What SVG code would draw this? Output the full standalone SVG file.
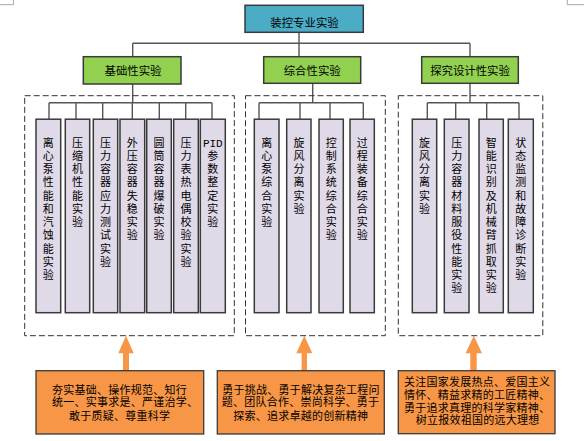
<svg xmlns="http://www.w3.org/2000/svg" width="584" height="441" viewBox="0 0 584 441">
<style>
  text { font-family: "Noto Sans CJK SC", "Liberation Sans", sans-serif; fill: #000; }
  .box { stroke: #3a3a3a; stroke-width: 1.5; }
  .top { fill: #4BACC6; }
  .cat { fill: #92D050; }
  .child { fill: #E0DAE8; stroke: #3a3a3a; stroke-width: 1.5; }
  .dash { fill: none; stroke: #333; stroke-width: 1; stroke-dasharray: 6 3; }
  .conn { fill: none; stroke: #555; stroke-width: 1.4; }
  .arrow { fill: #F79646; }
  .val { fill: #F79646; stroke: #3a3a3a; stroke-width: 1.3; }
  .h { font-size: 11.4px; text-anchor: middle; }
  .v { font-size: 11px; writing-mode: vertical-rl; text-orientation: upright; letter-spacing: 2.25px; }
  .t { font-size: 11px; letter-spacing: 0.25px; }
  .mono { font-family: "Liberation Mono", monospace; font-size: 11px; text-anchor: middle; }
  .corner { fill: none; stroke: #a8a8a8; stroke-width: 1; }
</style>

<g id="corners">
  <path class="corner" d="M13.5 0 V4.7 H0"/>
  <path class="corner" d="M567.3 0 V4.7 H584"/>
</g>

<g id="connectors">
  <path class="conn" d="M299 32.3 V56.7 M132.7 43.3 H470 M132.7 43.3 V56.7 M470 43.3 V56.7"/>
  <path class="conn" d="M132.7 84 V102.7 M49 102.7 H212 M49 102.7 V119 M76 102.7 V119 M102.7 102.7 V119 M132.3 102.7 V119 M159.3 102.7 V119 M185.7 102.7 V119 M212 102.7 V119"/>
  <path class="conn" d="M312.7 83.3 V102.7 M259 102.7 H363.3 M259 102.7 V119 M300 102.7 V119 M330 102.7 V119 M363.3 102.7 V119"/>
  <path class="conn" d="M470 83.3 V102.7 M427.3 102.7 H519 M427.3 102.7 V119 M455.7 102.7 V119 M486.7 102.7 V119 M519 102.7 V119"/>
  <polygon class="arrow" points="126,335.7 133.7,353.3 129,353.3 129,370.7 123,370.7 123,353.3 118.3,353.3"/>
  <polygon class="arrow" points="304.3,335.7 312.3,353.3 307,353.3 307,370.7 301.6,370.7 301.6,353.3 296.3,353.3"/>
  <polygon class="arrow" points="473.8,335.7 482,353.3 476.7,353.3 476.7,370.7 470.3,370.7 470.3,353.3 465.6,353.3"/>
</g>

<g id="root">
  <rect class="box top" x="245" y="5.3" width="118.3" height="27"/>
  <text class="h" x="304.5" y="26.5">装控专业实验</text>
</g>

<g id="cat-basic">
  <rect class="box cat" x="83.3" y="56.7" width="97.7" height="27.3"/>
  <text class="h" x="133" y="75.3">基础性实验</text>
</g>
<g id="cat-comprehensive">
  <rect class="box cat" x="263.7" y="56.7" width="97" height="26.6"/>
  <text class="h" x="312.2" y="75.3">综合性实验</text>
</g>
<g id="cat-research">
  <rect class="box cat" x="421.7" y="56.7" width="96.6" height="26.6"/>
  <text class="h" x="470" y="75.3">探究设计性实验</text>
</g>

<g id="group-basic">
  <rect class="dash" x="24.7" y="95.7" width="209.6" height="240"/>
</g>
<g id="group-comprehensive">
  <rect class="dash" x="245.5" y="95.7" width="139.8" height="240"/>
</g>
<g id="group-research">
  <rect class="dash" x="398.3" y="95.7" width="144.5" height="240"/>
</g>

<g id="b1"><rect class="child" x="36" y="119.2" width="24.7" height="193.5"/>
<text class="v" x="48.3" y="137">离心泵性能和汽蚀能实验</text></g>
<g id="b2"><rect class="child" x="65.3" y="119.2" width="24.4" height="193.5"/>
<text class="v" x="77.5" y="137">压缩机性能实验</text></g>
<g id="b3"><rect class="child" x="93.3" y="119.2" width="24.4" height="193.5"/>
<text class="v" x="105.5" y="137">压力容器应力测试实验</text></g>
<g id="b4"><rect class="child" x="120" y="119.2" width="24.7" height="193.5"/>
<text class="v" x="132.3" y="137">外压容器失稳实验</text></g>
<g id="b5"><rect class="child" x="146.7" y="119.2" width="24.6" height="193.5"/>
<text class="v" x="159" y="137">圆筒容器爆破实验</text></g>
<g id="b6"><rect class="child" x="173.7" y="119.2" width="24.6" height="193.5"/>
<text class="v" x="186" y="137">压力表热电偶校验实验</text></g>
<g id="b7"><rect class="child" x="200.3" y="119.2" width="25" height="193.5"/>
<text class="mono" x="212.8" y="146.5">PID</text>
<text class="v" x="212.8" y="150.25">参数整定实验</text></g>

<g id="c1"><rect class="child" x="254.3" y="119.2" width="24.7" height="193.5"/>
<text class="v" x="266.7" y="137">离心泵综合实验</text></g>
<g id="c2"><rect class="child" x="286.7" y="119.2" width="24.3" height="193.5"/>
<text class="v" x="298.9" y="137">旋风分离实验</text></g>
<g id="c3"><rect class="child" x="319" y="119.2" width="24.3" height="193.5"/>
<text class="v" x="331.2" y="137">控制系统综合实验</text></g>
<g id="c4"><rect class="child" x="350" y="119.2" width="24.3" height="193.5"/>
<text class="v" x="362.2" y="137">过程装备综合实验</text></g>

<g id="r1"><rect class="child" x="412.3" y="119.2" width="24.4" height="193.5"/>
<text class="v" x="424.5" y="137">旋风分离实验</text></g>
<g id="r2"><rect class="child" x="444.3" y="119.2" width="24.7" height="193.5"/>
<text class="v" x="456.7" y="137">压力容器材料服役性能实验</text></g>
<g id="r3"><rect class="child" x="479" y="119.2" width="24.3" height="193.5"/>
<text class="v" x="491.2" y="137">智能识别及机械臂抓取实验</text></g>
<g id="r4"><rect class="child" x="508.3" y="119.2" width="25" height="193.5"/>
<text class="v" x="520.8" y="137">状态监测和故障诊断实验</text></g>

<g id="value-basic">
  <rect class="val" x="36" y="370.7" width="167.7" height="63.3"/>
  <text class="t"><tspan x="52" y="393.5">夯实基础、操作规范、知行</tspan><tspan x="52" y="406.2">统一、实事求是、严谨治学、</tspan><tspan x="69" y="420">敢于质疑、尊重科学</tspan></text>
</g>
<g id="value-comprehensive">
  <rect class="val" x="217.3" y="370.7" width="167" height="63.3"/>
  <text class="t"><tspan x="222.3" y="393.5">勇于挑战、勇于解决复杂工程问</tspan><tspan x="221.8" y="406">题、团队合作、崇尚科学、勇于</tspan><tspan x="233.3" y="420">探索、追求卓越的创新精神</tspan></text>
</g>
<g id="value-research">
  <rect class="val" x="398.3" y="370.7" width="156.7" height="63"/>
  <text class="t"><tspan x="404" y="386">关注国家发展热点、爱国主义</tspan><tspan x="404" y="398.5">情怀、精益求精的工匠精神、</tspan><tspan x="404" y="411.5">勇于追求真理的科学家精神、</tspan><tspan x="415.7" y="424.2">树立报效祖国的远大理想</tspan></text>
</g>
</svg>
